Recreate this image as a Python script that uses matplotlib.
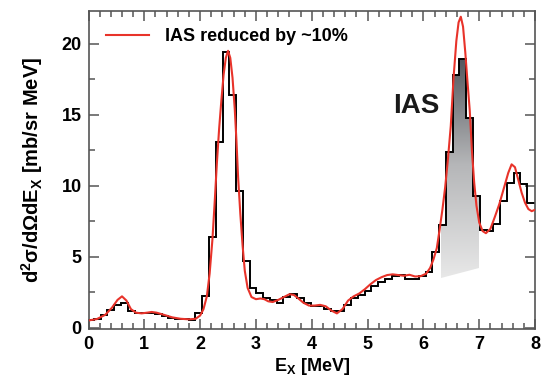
import numpy as np
import matplotlib
matplotlib.use('Agg')
import matplotlib.pyplot as plt
from matplotlib.colors import LinearSegmentedColormap
from matplotlib.patches import Polygon
from matplotlib.ticker import MultipleLocator

plt.rcParams['font.family'] = ['Liberation Sans', 'DejaVu Sans']
plt.rcParams['font.weight'] = 'bold'

# measured spectrum (histogram), bin width ~0.121 MeV
bin_width = 0.1213
first_edge = -0.025
counts = [0.5, 0.6, 0.9, 1.25, 1.6, 1.7, 1.2, 1.0, 1.0, 1.05,
          0.95, 0.8, 0.7, 0.6, 0.6, 0.55, 1.0, 2.2, 6.4, 13.1,
          19.45, 16.4, 9.6, 4.7, 2.8, 2.45, 2.1, 1.95, 1.75, 2.15,
          2.4, 2.1, 1.7, 1.5, 1.55, 1.3, 1.2, 1.15, 1.6, 2.1,
          2.3, 2.6, 2.95, 3.2, 3.45, 3.65, 3.7, 3.45, 3.45, 3.65,
          3.95, 5.3, 7.2, 12.4, 17.8, 18.9, 14.8, 9.3, 6.9, 6.8,
          7.3, 8.9, 10.2, 10.9, 10.1, 8.8, 8.8]
edges = first_edge + bin_width * np.arange(len(counts) + 1)

# fit with IAS reduced by ~10%
e_fit = [0.0, 0.15, 0.3, 0.42, 0.52, 0.6, 0.68, 0.76, 0.85, 0.95,
         1.05, 1.13, 1.22, 1.35, 1.5, 1.65, 1.8, 1.92, 2.0, 2.06,
         2.12, 2.17, 2.22, 2.26, 2.30, 2.34, 2.38, 2.42, 2.46, 2.50,
         2.54, 2.58, 2.62, 2.65, 2.68, 2.72, 2.76, 2.80, 2.85, 2.92,
         3.0, 3.08, 3.15, 3.22, 3.3, 3.4, 3.5, 3.6, 3.68, 3.76,
         3.85, 3.95, 4.05, 4.15, 4.25, 4.35, 4.45, 4.55, 4.65, 4.75,
         4.85, 4.95, 5.05, 5.15, 5.25, 5.35, 5.45, 5.55, 5.65, 5.75,
         5.85, 5.95, 6.05, 6.12, 6.18, 6.24, 6.29, 6.34, 6.39, 6.44,
         6.49, 6.54, 6.59, 6.63, 6.67, 6.71, 6.75, 6.79, 6.83, 6.87,
         6.91, 6.95, 7.0, 7.06, 7.12, 7.2, 7.28, 7.36, 7.44, 7.52,
         7.58, 7.64, 7.7, 7.76, 7.82, 7.88, 7.94, 8.0]
xs_fit = [0.5, 0.6, 0.9, 1.4, 1.95, 2.2, 1.9, 1.3, 1.05, 1.0,
          1.05, 1.1, 1.05, 0.9, 0.72, 0.62, 0.58, 0.62, 0.85, 1.3,
          2.2, 3.8, 6.2, 8.8, 11.6, 14.0, 16.0, 17.8, 19.0, 19.5,
          19.0, 17.6, 15.4, 13.2, 10.6, 8.0, 5.8, 4.0, 2.8, 2.15,
          2.0, 2.05, 2.0, 1.85, 1.8, 1.95, 2.15, 2.35, 2.3, 2.05,
          1.75, 1.55, 1.55, 1.6, 1.5, 1.2, 1.0, 1.3, 1.9, 2.2,
          2.4, 2.7, 3.05, 3.35, 3.55, 3.7, 3.75, 3.7, 3.65, 3.72,
          3.6, 3.62, 3.8, 4.2, 4.8, 5.6, 6.9, 8.3, 9.9, 11.9,
          14.2, 17.6, 20.2, 21.5, 21.9, 21.2, 19.4, 17.3, 15.3, 12.4,
          10.2, 8.6, 7.4, 6.8, 6.65, 6.95, 7.8, 8.7, 9.8, 10.9,
          11.5, 11.3, 10.4, 9.5, 8.8, 8.35, 8.2, 8.3]

# IAS shaded region: energy range and sloping lower boundary
ias_e = [6.31, 7.0]
ias_floor = [3.5, 4.2]

fig = plt.figure(figsize=(5.41, 3.81), dpi=100)
ax = fig.add_axes([0.1636, 0.1365, 0.8254, 0.8345])

# gradient fill under the IAS part of the histogram
top = []
for i, c in enumerate(counts):
    lo, hi = max(edges[i], ias_e[0]), min(edges[i + 1], ias_e[1])
    if hi > lo:
        top += [(lo, c), (hi, c)]
poly = [(ias_e[0], ias_floor[0])] + top + [(ias_e[1], ias_floor[1])]
patch = Polygon(poly, closed=True, facecolor='none', edgecolor='none')
ax.add_patch(patch)
cmap = LinearSegmentedColormap.from_list('ias', ['#e8e8e8', '#b5b6b8', '#4c5056'])
grad = np.linspace(0, 1, 256).reshape(-1, 1)
im = ax.imshow(grad, cmap=cmap, origin='lower', aspect='auto',
               extent=[ias_e[0], ias_e[1], 3.5, 19.5], zorder=1)
im.set_clip_path(patch)

ax.stairs(counts, edges, color='black', lw=1.4, zorder=2)
ax.plot(e_fit, xs_fit, color='#e8332a', lw=1.5, zorder=3,
        label='IAS reduced by ~10%')

ax.text(5.87, 15.6, 'IAS', fontsize=20, fontweight='bold',
        ha='center', va='center', color='#1a1a1a')

ax.set_xlim(0, 8)
ax.set_ylim(-0.1, 22.3)
ax.xaxis.set_major_locator(MultipleLocator(1))
ax.xaxis.set_minor_locator(MultipleLocator(0.2))
ax.yaxis.set_major_locator(MultipleLocator(5))
ax.yaxis.set_minor_locator(MultipleLocator(2.5))
ax.tick_params(which='both', direction='in', top=True, right=True,
               color='#555555', width=1.1, labelsize=13, pad=5)
ax.tick_params(which='major', length=7)
ax.tick_params(which='minor', length=4)
for s in ax.spines.values():
    s.set_color('#555555')
    s.set_linewidth(1.2)

ax.set_xlabel(r'E$_\mathregular{X}$ [MeV]', fontsize=13, fontweight='bold', labelpad=2)
ax.set_ylabel(r'd$^\mathregular{2}$σ/dΩdE$_\mathregular{X}$ [mb/sr MeV]',
              fontsize=14.5, fontweight='bold', labelpad=12)

ax.legend(loc='upper left', frameon=False, handlelength=2.4, handletextpad=0.9,
          borderaxespad=0.55, prop={'size': 13, 'weight': 'bold'})

fig.savefig('out.png', dpi=100)
